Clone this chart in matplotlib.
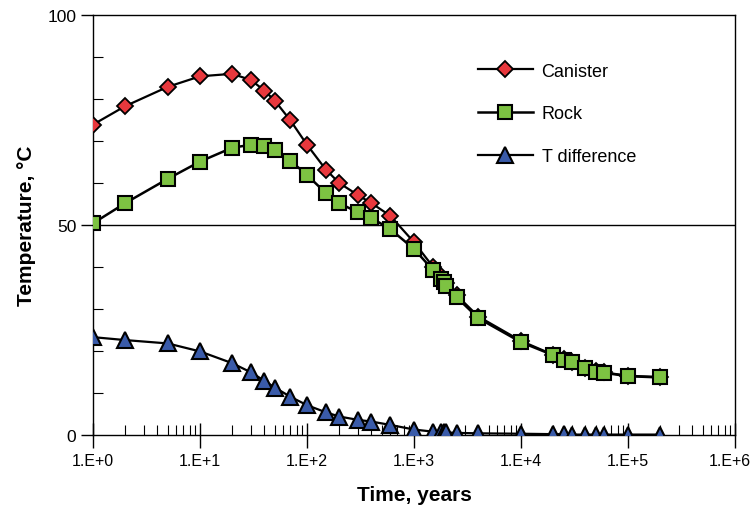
import matplotlib
matplotlib.use("Agg")
import matplotlib.pyplot as plt
import matplotlib.transforms as mtransforms
from matplotlib.ticker import LogLocator, FixedLocator, MultipleLocator, NullFormatter

plt.rcParams['font.family'] = ['Liberation Sans', 'DejaVu Sans']

# Data
time_years = [1, 2, 5, 10, 20, 30, 40, 50, 70, 100, 150, 200, 300, 400, 600, 1000,
              1500, 1800, 1900, 2000, 2500, 4000, 10000, 20000, 25000, 30000, 40000,
              50000, 60000, 100000, 200000]
canister = [73.9, 78.3, 82.9, 85.4, 86.0, 84.5, 82.0, 79.6, 74.9, 69.1, 63.2, 60.0, 57.1,
            55.2, 52.2, 45.9, 40.1, 37.8, 37.0, 36.1, 33.3, 28.2, 22.4, 19.1, 18.0, 17.4,
            16.0, 15.2, 14.9, 14.1, 13.8]
rock = [50.4, 55.2, 61.0, 65.1, 68.4, 69.1, 68.8, 67.9, 65.3, 61.9, 57.6, 55.2, 53.0,
        51.7, 49.0, 44.3, 39.3, 37.1, 36.4, 35.5, 32.8, 27.8, 22.1, 19.0, 17.9, 17.3,
        15.9, 15.1, 14.8, 14.0, 13.7]
t_diff = [23.3, 22.6, 21.8, 19.9, 17.1, 14.9, 12.9, 11.3, 9.1, 7.1, 5.4, 4.4, 3.6,
          3.2, 2.4, 1.3, 0.8, 0.7, 0.6, 0.6, 0.5, 0.4, 0.3, 0.2, 0.2, 0.1, 0.1,
          0.1, 0.1, 0.1, 0.1]
x_tick_labels = ['1.E+0', '1.E+1', '1.E+2', '1.E+3', '1.E+4', '1.E+5', '1.E+6']
y_tick_values = [0, 50, 100]

fig = plt.figure(figsize=(7.54, 5.10), dpi=100)
ax = fig.add_axes([93/754, 1-436/510, (735-93)/754, (436-16)/510])

ax.axhline(50, color='black', lw=1.0, zorder=1)

ax.plot(time_years, canister, color='black', lw=1.6, marker='D', ms=8.5,
        mfc='#E8383D', mec='black', mew=1.3, label='Canister', zorder=3)
ax.plot(time_years, rock, color='black', lw=1.8, marker='s', ms=10.5,
        mfc='#7DC242', mec='black', mew=1.5, label='Rock', zorder=4)
ax.plot(time_years, t_diff, color='black', lw=1.6, marker='^', ms=11,
        mfc='#3A5BA9', mec='black', mew=1.5, label='T difference', zorder=5)

ax.set_xscale('log')
ax.set_xlim(1, 1e6)
ax.set_ylim(0, 100)
ax.xaxis.set_major_locator(FixedLocator([10**i for i in range(7)]))
ax.set_xticklabels(x_tick_labels)
ax.xaxis.set_minor_locator(LogLocator(base=10, subs=range(2, 10), numticks=20))
ax.xaxis.set_minor_formatter(NullFormatter())
ax.set_yticks(y_tick_values)
ax.yaxis.set_minor_locator(MultipleLocator(10))

ax.tick_params(axis='x', which='major', direction='inout', length=18, width=1.0,
               labelsize=11.5, pad=4)
ax.tick_params(axis='x', which='minor', direction='in', length=7, width=0.8)
ax.tick_params(axis='y', which='major', direction='out', length=9, width=1.0,
               labelsize=12.5, pad=3)
ax.tick_params(axis='y', which='minor', direction='in', length=7, width=0.8)

# nudge the last x tick label slightly left so it stays inside the figure
last = ax.get_xticklabels()[-1]
last.set_transform(last.get_transform() +
                   mtransforms.ScaledTranslation(-5/100, 0, fig.dpi_scale_trans))

for s in ax.spines.values():
    s.set_linewidth(1.0)

ax.set_xlabel('Time, years', fontsize=15, fontweight='bold', labelpad=12)
ax.set_ylabel('Temperature, \u00b0C', fontsize=15, fontweight='bold', labelpad=8)

leg = ax.legend(loc='upper left', bbox_to_anchor=(0.575, 0.925), frameon=False,
                fontsize=13, handlelength=3.0, labelspacing=1.42, handletextpad=0.5)

fig.savefig('out.png', dpi=100)
